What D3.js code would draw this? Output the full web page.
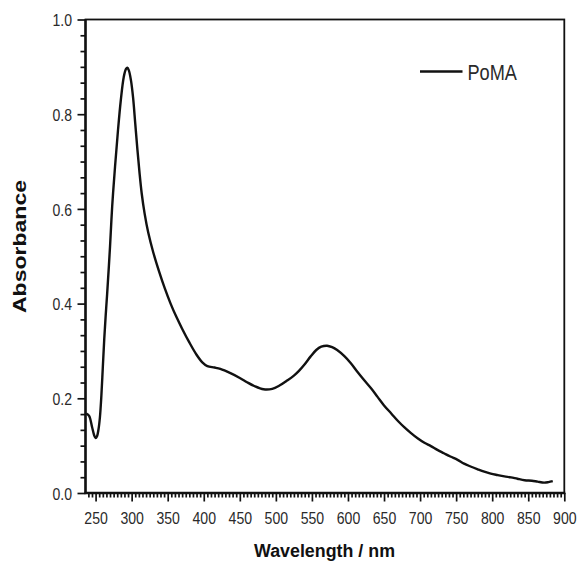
<!DOCTYPE html>
<html>
<head>
<meta charset="utf-8">
<script src="https://cdn.jsdelivr.net/npm/d3@7"></script>
<style>
  html, body { margin: 0; padding: 0; background: #fff; }
  svg { display: block; }
</style>
</head>
<body>
<svg id="chart" width="579" height="562"></svg>
<script>
// ---- Data ----
const wavelength = [237,241,245,248,250,252,254,256,258,260,262,264,266,270,273,277,281,285,289,292,294,296,299,302,305,308,311,314,318,323,330,338,346,354,362,370,380,390,398,405,415,423,437,450,460,470,483,495,505,515,525,532,540,548,556,563,571,578,585,595,604,613,622,632,641,650,660,670,678,687,697,706,715,724,733,742,752,761,770,780,789,798,807,817,826,835,845,855,863,872,878,884];
const absorbance = [0.168,0.163,0.140,0.122,0.116,0.120,0.134,0.160,0.205,0.265,0.325,0.375,0.420,0.520,0.605,0.690,0.765,0.830,0.878,0.895,0.898,0.893,0.872,0.835,0.780,0.725,0.675,0.632,0.590,0.550,0.508,0.468,0.432,0.400,0.372,0.347,0.318,0.292,0.276,0.268,0.265,0.262,0.253,0.243,0.234,0.226,0.219,0.220,0.227,0.237,0.248,0.258,0.272,0.288,0.302,0.309,0.311,0.308,0.302,0.289,0.274,0.256,0.239,0.221,0.203,0.185,0.168,0.151,0.139,0.127,0.115,0.106,0.099,0.091,0.084,0.077,0.070,0.062,0.056,0.050,0.045,0.041,0.038,0.035,0.033,0.030,0.027,0.026,0.024,0.022,0.023,0.025];
const seriesName = "PoMA";
const xTickValues = [250,300,350,400,450,500,550,600,650,700,750,800,850,900];
const yTickValues = [0.0,0.2,0.4,0.6,0.8,1.0];
const xTitle = "Wavelength / nm";
const yTitle = "Absorbance";

(function () {
// ---- Layout ----
const mLeft = 85.5, mRight = 564.3, mTop = 19.5, mBottom = 493;
const svg = d3.select("#chart");

const x = d3.scaleLinear().domain([236, 900]).range([mLeft, mRight]);
const y = d3.scaleLinear().domain([0, 1]).range([mBottom, mTop]);

const ink = "#111";
const labelInk = "#2a2a2a";
const font = "Arial, 'Liberation Sans', Helvetica, sans-serif";

// minor ticks
const xMinor = d3.range(240, 901, 5).filter(v => xTickValues.indexOf(v) < 0);
const yMinor = d3.range(0, 30).map(i => i / 30).filter(v => Math.abs(v*5 - Math.round(v*5)) > 1e-6);

// X axis
const xAxis = svg.append("g").attr("transform", `translate(0,${mBottom})`);
xAxis.call(d3.axisBottom(x).tickValues(xMinor).tickSize(4.5).tickFormat(""));
xAxis.select(".domain").remove();
const xAxisMajor = svg.append("g").attr("transform", `translate(0,${mBottom})`)
  .call(d3.axisBottom(x).tickValues(xTickValues).tickSize(8.5).tickPadding(9).tickFormat(d3.format("d")));
xAxisMajor.select(".domain").remove();
xAxisMajor.selectAll("text")
  .attr("font-family", font).attr("font-size", 17).attr("fill", labelInk)
  .attr("dy", null).attr("y", 30.5)
  .attr("textLength", 23.5).attr("lengthAdjust", "spacingAndGlyphs");

// Y axis
const yAxis = svg.append("g").attr("transform", `translate(${mLeft},0)`);
yAxis.call(d3.axisLeft(y).tickValues(yMinor).tickSize(5).tickFormat(""));
yAxis.select(".domain").remove();
const yAxisMajor = svg.append("g").attr("transform", `translate(${mLeft},0)`)
  .call(d3.axisLeft(y).tickValues(yTickValues).tickSize(8).tickPadding(5).tickFormat(d3.format(".1f")));
yAxisMajor.select(".domain").remove();
yAxisMajor.selectAll("text")
  .attr("font-family", font).attr("font-size", 17).attr("fill", labelInk)
  .attr("dy", "0.36em").attr("x", -13.5)
  .attr("textLength", 19.5).attr("lengthAdjust", "spacingAndGlyphs");

svg.selectAll("g.tick line").attr("stroke", ink).attr("stroke-width", 1.7);

// Frame
svg.append("rect")
  .attr("x", mLeft).attr("y", mTop)
  .attr("width", mRight - mLeft).attr("height", mBottom - mTop)
  .attr("fill", "none").attr("stroke", ink).attr("stroke-width", 1.8);
svg.append("line").attr("x1", mLeft).attr("x2", mLeft).attr("y1", mTop).attr("y2", mBottom + 1)
  .attr("stroke", ink).attr("stroke-width", 2.4);
svg.append("line").attr("x1", mLeft - 1).attr("x2", mRight + 1).attr("y1", mBottom).attr("y2", mBottom)
  .attr("stroke", ink).attr("stroke-width", 2.4);

// Curve
const pts = wavelength.map((w, i) => [w, absorbance[i]]);
const line = d3.line().x(d => x(d[0])).y(d => y(d[1])).curve(d3.curveCatmullRom.alpha(0.5));
svg.append("path").datum(pts)
  .attr("d", line)
  .attr("fill", "none").attr("stroke", ink).attr("stroke-width", 2.4)
  .attr("stroke-linejoin", "round");

// Legend
svg.append("line").attr("x1", 420).attr("x2", 462.5).attr("y1", 71.5).attr("y2", 71.5)
  .attr("stroke", ink).attr("stroke-width", 2.4);
svg.append("text").attr("x", 467.5).attr("y", 79.8)
  .attr("font-family", font).attr("font-size", 22).attr("fill", labelInk)
  .attr("textLength", 49.5).attr("lengthAdjust", "spacingAndGlyphs")
  .text(seriesName);

// Axis titles
svg.append("text").attr("x", 324.5).attr("y", 557)
  .attr("text-anchor", "middle")
  .attr("font-family", font).attr("font-size", 18).attr("font-weight", "bold").attr("fill", ink)
  .attr("textLength", 141).attr("lengthAdjust", "spacingAndGlyphs")
  .text(xTitle);
svg.append("text")
  .attr("transform", "translate(26,246.5) rotate(-90)")
  .attr("text-anchor", "middle")
  .attr("font-family", font).attr("font-size", 17.5).attr("font-weight", "bold").attr("fill", ink)
  .attr("textLength", 133).attr("lengthAdjust", "spacingAndGlyphs")
  .text(yTitle);
})();
</script>
</body>
</html>
